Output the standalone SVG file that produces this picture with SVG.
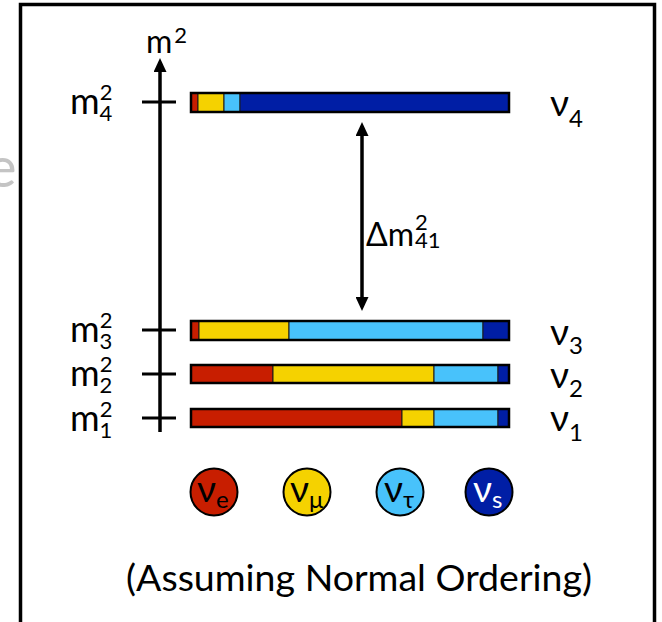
<svg xmlns="http://www.w3.org/2000/svg" width="662" height="622" viewBox="0 0 662 622">
<style>
text{font-family:Lato,"Open Sans","DejaVu Sans",sans-serif;fill:#000}
.big{font-size:36px}
.sm{font-size:22px}
.nu{font-size:37px}
.nsub{font-size:24px}
.seg{stroke:#1a1a1a;stroke-width:1}
.out{fill:none;stroke:#000;stroke-width:2.5}
.r{fill:#C81E00}.y{fill:#F5D200}.lb{fill:#48C2FB}.db{fill:#001EA5}
.ax{stroke:#000;stroke-width:3.5;fill:none}
.tk{stroke:#000;stroke-width:3;fill:none}
.circ{stroke:#000;stroke-width:2}
</style>
<defs>
<marker id="ah" viewBox="0 0 14 13" refX="10" refY="6.5" markerWidth="14" markerHeight="13" markerUnits="userSpaceOnUse" orient="auto-start-reverse">
<path d="M0,0 L14,6.5 L0,13 Z" fill="#000"/>
</marker>
</defs>
<rect width="662" height="622" fill="#fff"/>
<text x="-13" y="187" style="font-size:56px;fill:#c4c4c4">e</text>
<rect x="20.5" y="4.5" width="634" height="660" fill="#fff" stroke="#000" stroke-width="3.5"/>

<g id="connectors">
<line class="ax" x1="160" y1="432" x2="160" y2="62" marker-end="url(#ah)"/>
<line class="ax" x1="362" y1="126" x2="362" y2="307" marker-start="url(#ah)" marker-end="url(#ah)"/>
<line class="tk" x1="142" y1="102" x2="176" y2="102"/>
<line class="tk" x1="142" y1="330" x2="176" y2="330"/>
<line class="tk" x1="142" y1="374" x2="176" y2="374"/>
<line class="tk" x1="142" y1="418" x2="176" y2="418"/>
</g>

<g id="axis-label">
<text x="146" y="53" style="font-size:32px">m<tspan dx="2" dy="-10" style="font-size:22px">2</tspan></text>
</g>

<g id="m4-label"><text class="big" x="70" y="114">m<tspan class="sm" dy="-14">2</tspan><tspan class="sm" dx="-12.8" dy="21">4</tspan></text></g>
<g id="m3-label"><text class="big" x="70" y="342">m<tspan class="sm" dy="-14">2</tspan><tspan class="sm" dx="-12.8" dy="21">3</tspan></text></g>
<g id="m2-label"><text class="big" x="70" y="386">m<tspan class="sm" dy="-14">2</tspan><tspan class="sm" dx="-12.8" dy="21">2</tspan></text></g>
<g id="m1-label"><text class="big" x="70" y="431">m<tspan class="sm" dy="-14">2</tspan><tspan class="sm" dx="-12.8" dy="21">1</tspan></text></g>

<g id="bar-nu4">
<rect class="seg r" x="191" y="93" width="7" height="19"/>
<rect class="seg y" x="198" y="93" width="26" height="19"/>
<rect class="seg lb" x="224" y="93" width="16" height="19"/>
<rect class="seg db" x="240" y="93" width="269" height="19"/>
<rect class="out" x="191" y="93" width="318" height="19"/>
</g>
<g id="bar-nu3">
<rect class="seg r" x="191" y="321" width="8" height="19"/>
<rect class="seg y" x="199" y="321" width="90" height="19"/>
<rect class="seg lb" x="289" y="321" width="194" height="19"/>
<rect class="seg db" x="483" y="321" width="26" height="19"/>
<rect class="out" x="191" y="321" width="318" height="19"/>
</g>
<g id="bar-nu2">
<rect class="seg r" x="191" y="365" width="82" height="18"/>
<rect class="seg y" x="273" y="365" width="161" height="18"/>
<rect class="seg lb" x="434" y="365" width="64" height="18"/>
<rect class="seg db" x="498" y="365" width="11" height="18"/>
<rect class="out" x="191" y="365" width="318" height="18"/>
</g>
<g id="bar-nu1">
<rect class="seg r" x="191" y="409" width="211" height="18"/>
<rect class="seg y" x="402" y="409" width="32" height="18"/>
<rect class="seg lb" x="434" y="409" width="64" height="18"/>
<rect class="seg db" x="498" y="409" width="11" height="18"/>
<rect class="out" x="191" y="409" width="318" height="18"/>
</g>

<g id="nu4-label"><text class="nu" x="550" y="116">ν<tspan class="nsub" dy="11">4</tspan></text></g>
<g id="nu3-label"><text class="nu" x="550" y="345">ν<tspan class="nsub" dy="9">3</tspan></text></g>
<g id="nu2-label"><text class="nu" x="550" y="388">ν<tspan class="nsub" dy="9">2</tspan></text></g>
<g id="nu1-label"><text class="nu" x="550" y="431">ν<tspan class="nsub" dy="10">1</tspan></text></g>

<g id="delta-label">
<text x="366" y="246" style="font-size:32px">Δm<tspan class="sm" dx="1" dy="-16">2</tspan><tspan class="sm" dx="-12.8" dy="18">41</tspan></text>
</g>

<g id="flavor-e"><circle class="circ r" cx="214" cy="492" r="23.5"/><text class="nu" x="197" y="502">ν<tspan class="nsub" dy="6">e</tspan></text></g>
<g id="flavor-mu"><circle class="circ y" cx="307" cy="492" r="23.5"/><text class="nu" x="290" y="502">ν<tspan class="nsub" dy="6">μ</tspan></text></g>
<g id="flavor-tau"><circle class="circ lb" cx="400" cy="492" r="23.5"/><text class="nu" x="384" y="502">ν<tspan class="nsub" dy="6">τ</tspan></text></g>
<g id="flavor-s"><circle class="circ db" cx="489" cy="492" r="23.5"/><text class="nu" x="473" y="502" style="fill:#fff">ν<tspan class="nsub" dy="6" style="fill:#fff">s</tspan></text></g>

<g id="caption"><text x="126" y="591" style="font-size:37.5px">(Assuming Normal Ordering)</text></g>
</svg>
